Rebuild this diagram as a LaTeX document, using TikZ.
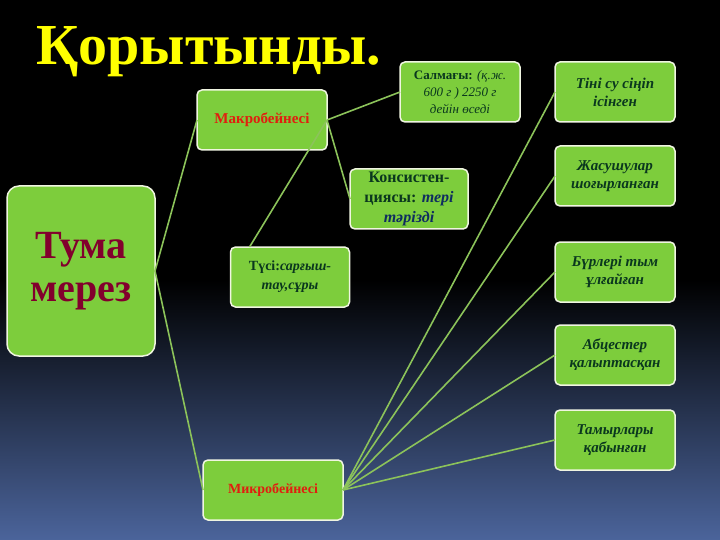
\documentclass[tikz,border=0pt]{standalone}
\usepackage{fontspec}
\setmainfont{Liberation Serif}
\usetikzlibrary{calc,positioning}

\definecolor{leafgreen}{RGB}{125,205,60}
\definecolor{linkgreen}{RGB}{140,195,90}
\definecolor{rimwhite}{RGB}{240,245,225}
\definecolor{textgreen}{RGB}{10,55,30}
\definecolor{textblue}{RGB}{15,45,95}
\definecolor{titleyellow}{RGB}{255,255,0}
\definecolor{deepred}{RGB}{130,0,45}
\definecolor{hotred}{RGB}{225,30,15}
\definecolor{nightblue}{RGB}{75,100,155}

\begin{document}
\begin{tikzpicture}[x=1pt,y=-1pt,every node/.style={outer sep=0pt}]
\tikzset{
    card/.style = {draw=rimwhite,line width=1.5pt,fill=leafgreen,rounded corners=5pt,
                    minimum width=120pt,minimum height=60pt,inner sep=2pt,align=center,
                    text=textgreen,font=\fontsize{14}{17}\selectfont},
    note/.style = {card,font=\bfseries\itshape\fontsize{15}{18}\selectfont},
    link/.style = {linkgreen,line width=1.6pt}
}

%% background
\fill[black] (0,0) rectangle (720,540);
\shade[top color=black,bottom color=nightblue] (0,280) rectangle (720,540);
\useasboundingbox (0,0) rectangle (720,540);

\node (title) [anchor=base,text=titleyellow,font=\bfseries\fontsize{58}{58}\selectfont] at (209,65) {Қорытынды.};

%% left part
\node (tuma) [card,minimum width=148pt,minimum height=170pt,rounded corners=12pt,
              text=deepred,font=\bfseries\fontsize{40}{43}\selectfont] at (81,271) {Тума\\мерез};
\node (macro) [card,minimum width=130pt,text=hotred,font=\bfseries\fontsize{15}{18}\selectfont] at (262,120) {Макробейнесі};
\node (micro) [card,minimum width=140pt,text=hotred,font=\bfseries\fontsize{14}{17}\selectfont] at (273,490) {Микробейнесі};

%% macro features
\node (salmak) [card,font=\fontsize{13}{17}\selectfont] at (460,92)
    {\textbf{Салмағы:} \textit{(қ.ж.}\\ \textit{600 г ) 2250 г}\\ \textit{дейін өседі}};
\node (konsist) [card,minimum width=118pt,font=\bfseries\fontsize{16}{20}\selectfont] at (409,199)
    {Консистен-\\циясы: \textcolor{textblue}{\textit{тері}}\\ \textcolor{textblue}{\textit{тәрізді}}};
\node (tusi) [card,minimum width=119pt,font=\bfseries\fontsize{14}{19}\selectfont] at (290,277)
    {Түсі:\textit{сарғыш-}\\ \textit{тау,сұры}};

%% micro features
\node (tini)  [note] at (615,92)  {Тіні су сіңіп\\ісінген};
\node (zhasu) [note] at (615,176) {Жасушулар\\шоғырланған};
\node (burl)  [note] at (615,272) {Бүрлері тым\\ұлғайған};
\node (abts)  [note] at (615,355) {Абцестер\\қалыптасқан};
\node (tamyr) [note] at (615,440) {Тамырлары\\қабынған};

%% connectors
\coordinate (tusitop) at ($(tusi.north west)!0.16!(tusi.north east)$);
\draw[link] (tuma.east) -- (macro.west);
\draw[link] (tuma.east) -- (micro.west);
\draw[link] (macro.east) -- (salmak.west);
\draw[link] (macro.east) -- (konsist.west);
\draw[link] (macro.east) -- (tusitop);
\foreach \r in {tini,zhasu,burl,abts,tamyr}
    \draw[link] (micro.east) -- (\r.west);

\end{tikzpicture}
\end{document}
